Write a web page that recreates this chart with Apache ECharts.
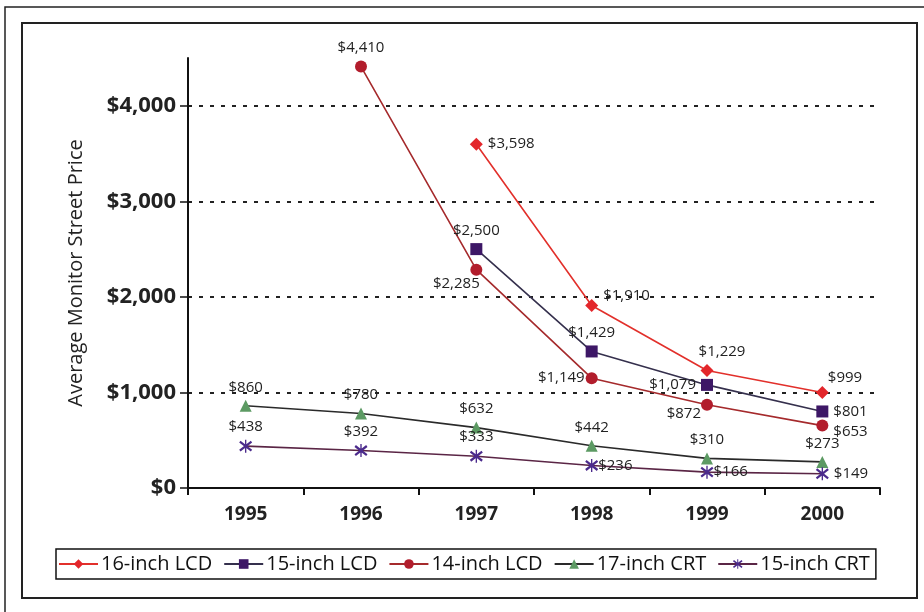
<!DOCTYPE html>
<html>
<head>
<meta charset="utf-8">
<script src="https://cdn.jsdelivr.net/npm/echarts@6/dist/echarts.min.js"></script>
<style>
html, body { margin: 0; padding: 0; background: #fff; }
#chart { width: 924px; height: 612px; }
</style>
</head>
<body>
<div id="chart"></div>
<script>
// data
var years = ['1995', '1996', '1997', '1998', '1999', '2000'];
var lcd16 = [null, null, 3598, 1910, 1229, 999];
var lcd15 = [null, null, 2500, 1429, 1079, 801];
var lcd14 = [null, 4410, 2285, 1149, 872, 653];
var crt17 = [860, 780, 632, 442, 310, 273];
var crt15 = [438, 392, 333, 236, 166, 149];
var yTicks = [0, 1000, 2000, 3000, 4000];

var FONT = 'Open Sans';
var money = function (v) { return '$' + Number(v).toLocaleString('en-US'); };

// label placement per point (style only)
var T = { position: 'top' }, R = { position: 'right' }, L = { position: 'left' };
var lcd16Lbl = [null, null, R, { position: 'right', offset: [0, -10] }, { position: 'top', offset: [15, 0] }, { position: 'right', offset: [-6, -15] }];
var lcd15Lbl = [null, null, T, T, L, R];
var lcd14Lbl = [null, T, { position: 'bottom', offset: [-20, -4] }, { position: 'left', distance: 1 }, { position: 'left', offset: [5, 9] }, { position: 'right', offset: [0, 6] }];
var crt17Lbl = [T, T, T, T, T, T];
var crt15Lbl = [T, T, T, { position: 'right', distance: 0 }, { position: 'right', distance: 0 }, R];

var asterisk = 'path://M4.5 0L5.5 0L5.5 10L4.5 10Z M0.2 2.2L1.2 0.8L9.8 7.8L8.8 9.2Z M8.8 0.8L9.8 2.2L1.2 9.2L0.2 7.8Z';

function pts(values, places) {
    return values.map(function (v, i) {
        if (v == null) return null;
        return { value: v, label: places[i] };
    });
}

function line(name, values, places, lineColor, markColor, symbol, size) {
    return {
        name: name,
        type: 'line',
        data: pts(values, places),
        symbol: symbol,
        symbolSize: size,
        lineStyle: { color: lineColor, width: 1.6 },
        itemStyle: { color: markColor },
        label: {
            show: true,
            fontFamily: FONT,
            fontSize: 15,
            color: '#222',
            formatter: function (p) { return money(p.value); }
        },
        animation: false
    };
}

var chart = echarts.init(document.getElementById('chart'));

var option = {
    backgroundColor: '#fff',
    textStyle: { fontFamily: FONT },
    graphic: [
        { type: 'rect', shape: { x: 5, y: 7, width: 940, height: 640 }, style: { fill: null, stroke: '#222', lineWidth: 1.5 }, silent: true },
        { type: 'rect', shape: { x: 22, y: 23, width: 895, height: 575 }, style: { fill: null, stroke: '#222', lineWidth: 2 }, silent: true }
    ],
    grid: { left: 188, right: 44, top: 58, bottom: 124 },
    legend: {
        left: 56,
        top: 549,
        padding: [5, 6, 5, 2],
        itemGap: 11,
        itemWidth: 39,
        itemHeight: 12,
        borderColor: '#111',
        borderWidth: 1.5,
        textStyle: { fontFamily: FONT, fontSize: 20, color: '#111', padding: [0, 0, 0, -2] },
        data: ['16-inch LCD', '15-inch LCD', '14-inch LCD', '17-inch CRT', '15-inch CRT']
    },
    xAxis: {
        type: 'category',
        data: years,
        boundaryGap: true,
        axisLine: { lineStyle: { color: '#111', width: 2 } },
        axisTick: { show: true, length: 7, lineStyle: { color: '#111', width: 2 } },
        axisLabel: { fontFamily: FONT, fontSize: 19, fontWeight: 'bold', color: '#222', margin: 17 }
    },
    yAxis: {
        type: 'value',
        min: 0,
        max: 4500,
        interval: 1000,
        name: 'Average Monitor Street Price',
        nameLocation: 'middle',
        nameGap: 102,
        nameTextStyle: { fontFamily: FONT, fontSize: 20, color: '#222' },
        axisLine: { show: true, lineStyle: { color: '#111', width: 2 } },
        axisTick: { show: true, length: 8, customValues: yTicks, lineStyle: { color: '#111', width: 1.5 } },
        axisLabel: {
            customValues: yTicks,
            fontFamily: FONT, fontSize: 22, fontWeight: 'bold', color: '#222', margin: 12,
            formatter: money
        },
        splitLine: {
            show: true,
            showMinLine: false,
            lineStyle: { color: '#222', width: 2, type: [4, 7] }
        }
    },
    series: [
        line('16-inch LCD', lcd16, lcd16Lbl, '#e2302b', '#e3262b', 'diamond', 13),
        line('15-inch LCD', lcd15, lcd15Lbl, '#35304d', '#3d1766', 'rect', 12),
        line('14-inch LCD', lcd14, lcd14Lbl, '#a52a2c', '#b21d2c', 'circle', 12),
        line('17-inch CRT', crt17, crt17Lbl, '#2a2a2a', '#5c9a63', 'triangle', 12),
        line('15-inch CRT', crt15, crt15Lbl, '#5a2545', '#4b2a8c', asterisk, 13)
    ]
};

chart.setOption(option);
</script>
</body>
</html>
